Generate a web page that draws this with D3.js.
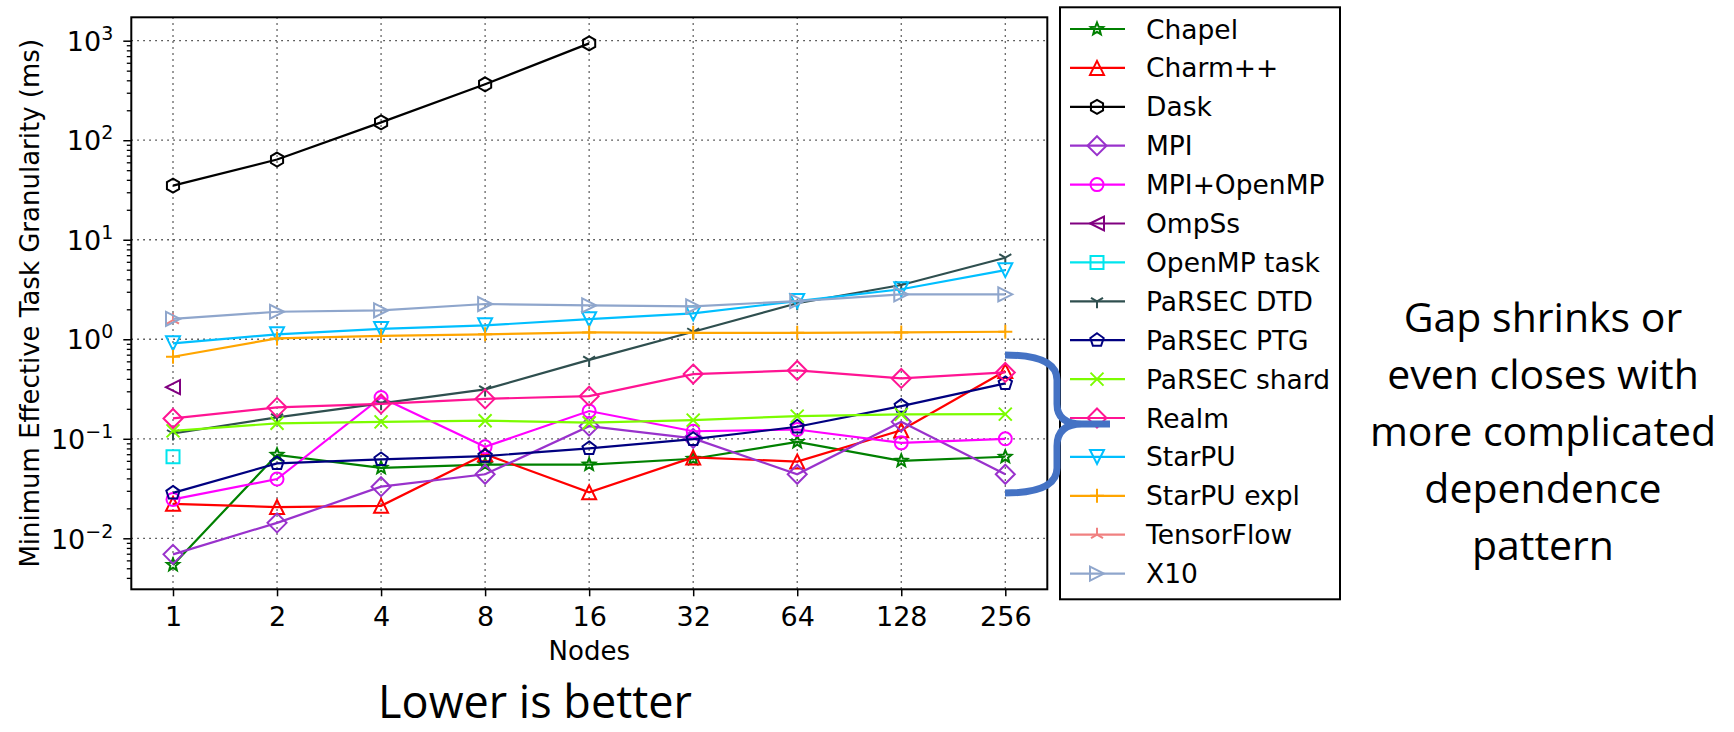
<!DOCTYPE html>
<html>
<head>
<meta charset="utf-8">
<script src="https://cdn.jsdelivr.net/npm/d3@7"></script>
<style>
  body { margin: 0; background: #fff; }
  svg { display: block; }
</style>
</head>
<body>
<script>
// node counts on the x axis
const nodes = [1, 2, 4, 8, 16, 32, 64, 128, 256];

// minimum effective task granularity (ms), one value per node count
const chapel      = [0.0054, 0.069, 0.051, 0.055, 0.055, 0.063, 0.093, 0.060, 0.066];
const charm       = [0.0222, 0.0206, 0.0212, 0.070, 0.029, 0.065, 0.059, 0.122, 0.48];
const dask        = [35, 64, 151, 365, 940, null, null, null, null];
const mpi         = [0.0069, 0.0143, 0.033, 0.044, 0.134, 0.101, 0.044, 0.148, 0.044];
const mpiOpenmp   = [0.0246, 0.0394, 0.26, 0.083, 0.19, 0.119, 0.124, 0.091, 0.100];
const ompss       = [0.33, null, null, null, null, null, null, null, null];
const openmpTask  = [0.066, null, null, null, null, null, null, null, null];
const parsecDtd   = [0.113, 0.164, 0.227, 0.314, 0.62, 1.19, 2.30, 3.51, 6.6];
const parsecPtg   = [0.0286, 0.0566, 0.062, 0.067, 0.080, 0.099, 0.132, 0.213, 0.36];
const parsecShard = [0.120, 0.143, 0.148, 0.152, 0.145, 0.154, 0.169, 0.176, 0.177];
const realm       = [0.160, 0.207, 0.224, 0.252, 0.268, 0.447, 0.486, 0.404, 0.464];
const starpu      = [0.91, 1.12, 1.27, 1.38, 1.59, 1.82, 2.42, 3.18, 4.95];
const starpuExpl  = [0.667, 1.02, 1.08, 1.12, 1.17, 1.16, 1.16, 1.17, 1.19];
const tensorflow  = [1.56, null, null, null, null, null, null, null, null];
const x10         = [1.60, 1.89, 1.95, 2.26, 2.19, 2.14, 2.42, 2.83, 2.83];

const yMajor = [1e-2, 1e-1, 1e0, 1e1, 1e2, 1e3];
const yExp = ["\u22122", "\u22121", "0", "1", "2", "3"];

const series = [
  {name: "Chapel",       values: chapel,      color: "#008000", marker: "star"},
  {name: "Charm++",      values: charm,       color: "#ff0000", marker: "triUp"},
  {name: "Dask",         values: dask,        color: "#000000", marker: "hex"},
  {name: "MPI",          values: mpi,         color: "#9932cc", marker: "diamond"},
  {name: "MPI+OpenMP",   values: mpiOpenmp,   color: "#ff00ff", marker: "circle"},
  {name: "OmpSs",        values: ompss,       color: "#800080", marker: "triLeft"},
  {name: "OpenMP task",  values: openmpTask,  color: "#00e5ee", marker: "square"},
  {name: "PaRSEC DTD",   values: parsecDtd,   color: "#2f4f4f", marker: "spokeDown"},
  {name: "PaRSEC PTG",   values: parsecPtg,   color: "#000080", marker: "pent"},
  {name: "PaRSEC shard", values: parsecShard, color: "#7cfc00", marker: "cross"},
  {name: "Realm",        values: realm,       color: "#ff1493", marker: "diamond"},
  {name: "StarPU",       values: starpu,      color: "#00bfff", marker: "triDown"},
  {name: "StarPU expl",  values: starpuExpl,  color: "#ffa500", marker: "plus"},
  {name: "TensorFlow",   values: tensorflow,  color: "#f08080", marker: "spokeUp"},
  {name: "X10",          values: x10,         color: "#8fa6cc", marker: "triRight"}
];

const width = 1734, height = 732;
const font = "'DejaVu Sans', sans-serif";
const plot = {left: 131.3, top: 17.3, right: 1047.3, bottom: 589.3};

const svg = d3.select("body").append("svg")
    .attr("width", width)
    .attr("height", height);

svg.append("rect").attr("width", width).attr("height", height).attr("fill", "#fff");

const x = d3.scaleLog().base(2).domain([1, 256]).range([173, 1005.3]);
const y = d3.scaleLog().domain([1e-2, 1e3]).range([538.3, 40.7]);

// minor ticks inside the visible range
const yMinor = [];
for (let e = -3; e <= 3; e++) {
  for (let m = 2; m <= 9; m++) {
    const v = m * Math.pow(10, e);
    const py = y(v);
    if (py > plot.top && py < plot.bottom) yMinor.push(v);
  }
}

// grid
const grid = svg.append("g")
    .attr("stroke", "#333")
    .attr("stroke-width", 1.3)
    .attr("stroke-dasharray", "1.5,4.5");
grid.selectAll("line.v").data(nodes).join("line")
    .attr("class", "v")
    .attr("x1", d => x(d)).attr("x2", d => x(d))
    .attr("y1", plot.top).attr("y2", plot.bottom);
grid.selectAll("line.h").data(yMajor).join("line")
    .attr("class", "h")
    .attr("x1", plot.left).attr("x2", plot.right)
    .attr("y1", d => y(d)).attr("y2", d => y(d));

// marker shapes, centred at 0,0
function poly(n, r) {
  const pts = d3.range(n).map(i => {
    const a = i * 2 * Math.PI / n;
    return [r * Math.sin(a), -r * Math.cos(a)];
  });
  return "M" + pts.map(p => p.join(",")).join("L") + "Z";
}
function starPath(ro, ri) {
  const pts = d3.range(10).map(i => {
    const a = i * Math.PI / 5, r = i % 2 ? ri : ro;
    return [r * Math.sin(a), -r * Math.cos(a)];
  });
  return "M" + pts.map(p => p.join(",")).join("L") + "Z";
}
function markerPath(type) {
  switch (type) {
    case "circle":    return "M-6.5,0A6.5,6.5 0 1,0 6.5,0A6.5,6.5 0 1,0 -6.5,0Z";
    case "diamond":   return poly(4, 9.5);
    case "triUp":     return "M0,-7L-7,7L7,7Z";
    case "triDown":   return "M0,7L-7,-7L7,-7Z";
    case "triLeft":   return "M-7,0L7,-7L7,7Z";
    case "triRight":  return "M7,0L-7,-7L-7,7Z";
    case "square":    return "M-6.5,-6.5H6.5V6.5H-6.5Z";
    case "hex":       return poly(6, 7);
    case "pent":      return poly(5, 7);
    case "star":      return starPath(6.5, 2.8);
    case "cross":     return "M-6.5,-6.5L6.5,6.5M-6.5,6.5L6.5,-6.5";
    case "plus":      return "M-7,0H7M0,-7V7";
    case "spokeDown": return "M0,0V7M0,0L-6,-3.5M0,0L6,-3.5";
    case "spokeUp":   return "M0,0V-7M0,0L-6,3.5M0,0L6,3.5";
  }
}

const line = d3.line()
    .defined(d => d[1] != null)
    .x(d => x(d[0]))
    .y(d => y(d[1]));

const lines = svg.append("g");
series.forEach(s => {
  const pts = nodes.map((n, i) => [n, s.values[i]]);
  const g = lines.append("g");
  g.append("path")
      .attr("d", line(pts))
      .attr("fill", "none")
      .attr("stroke", s.color)
      .attr("stroke-width", 2.2);
  g.selectAll("path.m").data(pts.filter(p => p[1] != null)).join("path")
      .attr("class", "m")
      .attr("transform", d => `translate(${x(d[0])},${y(d[1])})`)
      .attr("d", markerPath(s.marker))
      .attr("fill", "none")
      .attr("stroke", s.color)
      .attr("stroke-width", 2);
});

// axes
const xAxis = d3.axisBottom(x)
    .tickValues(nodes)
    .tickFormat(d3.format("d"))
    .tickSize(7)
    .tickSizeOuter(0)
    .tickPadding(11);
svg.append("g")
    .attr("transform", `translate(0,${plot.bottom})`)
    .call(xAxis)
    .call(g => g.select(".domain").remove())
    .call(g => g.selectAll("line").attr("stroke-width", 1.5))
    .call(g => g.selectAll("text").attr("font-size", 27).attr("font-family", font).attr("fill", "#000"));

svg.append("g")
    .attr("transform", `translate(${plot.left},0)`)
    .call(d3.axisLeft(y).tickValues(yMinor).tickSize(4.5).tickFormat(""))
    .call(g => g.select(".domain").remove())
    .call(g => g.selectAll("line").attr("stroke-width", 1.3));

svg.append("g")
    .attr("transform", `translate(${plot.left},0)`)
    .call(d3.axisLeft(y).tickValues(yMajor).tickSize(8).tickPadding(10).tickFormat(""))
    .call(g => g.select(".domain").remove())
    .call(g => g.selectAll("line").attr("stroke-width", 1.5))
    .call(g => g.selectAll(".tick text").each(function(d, i) {
      const t = d3.select(this)
          .attr("font-family", font)
          .attr("font-size", 27)
          .attr("fill", "#000")
          .attr("dy", "0.36em");
      t.append("tspan").text("10");
      t.append("tspan").attr("dy", -11).attr("font-size", 19).text(yExp[i]);
    }));

svg.append("rect")
    .attr("x", plot.left).attr("y", plot.top)
    .attr("width", plot.right - plot.left)
    .attr("height", plot.bottom - plot.top)
    .attr("fill", "none")
    .attr("stroke", "#000")
    .attr("stroke-width", 2);

svg.append("text")
    .attr("transform", `translate(39,${(plot.top + plot.bottom) / 2}) rotate(-90)`)
    .attr("text-anchor", "middle")
    .attr("font-family", font)
    .attr("font-size", 26)
    .text("Minimum Effective Task Granularity (ms)");

svg.append("text")
    .attr("x", (plot.left + plot.right) / 2)
    .attr("y", 660)
    .attr("text-anchor", "middle")
    .attr("font-family", font)
    .attr("font-size", 26)
    .text("Nodes");

// legend
const legend = svg.append("g");
legend.append("rect")
    .attr("x", 1060).attr("y", 7.3)
    .attr("width", 280).attr("height", 592)
    .attr("fill", "#fff")
    .attr("stroke", "#000")
    .attr("stroke-width", 2);
const items = legend.selectAll("g.item").data(series).join("g")
    .attr("class", "item")
    .attr("transform", (d, i) => `translate(0,${29 + i * 38.9})`);
items.append("line")
    .attr("x1", 1070).attr("x2", 1125)
    .attr("stroke", d => d.color)
    .attr("stroke-width", 2.2);
items.append("path")
    .attr("transform", "translate(1097,0)")
    .attr("d", d => markerPath(d.marker))
    .attr("fill", "none")
    .attr("stroke", d => d.color)
    .attr("stroke-width", 2);
items.append("text")
    .attr("x", 1146).attr("y", 9.5)
    .attr("font-family", font)
    .attr("font-size", 26.5)
    .text(d => d.name);

// brace annotation
svg.append("path")
    .attr("d", "M1005,355 Q1057,355 1057,380 L1057,404 Q1057,424 1082,424 L1110,424 " +
               "M1110,424 L1082,424 Q1057,424 1057,446 L1057,468 Q1057,493 1005,493")
    .attr("fill", "none")
    .attr("stroke", "#4472c4")
    .attr("stroke-width", 7)
    .attr("stroke-linejoin", "round");

const note = ["Gap shrinks or", "even closes with", "more complicated", "dependence", "pattern"];
svg.append("g").selectAll("text").data(note).join("text")
    .attr("x", 1543)
    .attr("y", (d, i) => 332 + i * 57)
    .attr("text-anchor", "middle")
    .attr("font-family", "'Open Sans', sans-serif")
    .attr("font-size", 41)
    .text(d => d);

svg.append("text")
    .attr("x", 535).attr("y", 718)
    .attr("text-anchor", "middle")
    .attr("font-family", "'Open Sans', sans-serif")
    .attr("font-size", 45)
    .text("Lower is better");
</script>
</body>
</html>
